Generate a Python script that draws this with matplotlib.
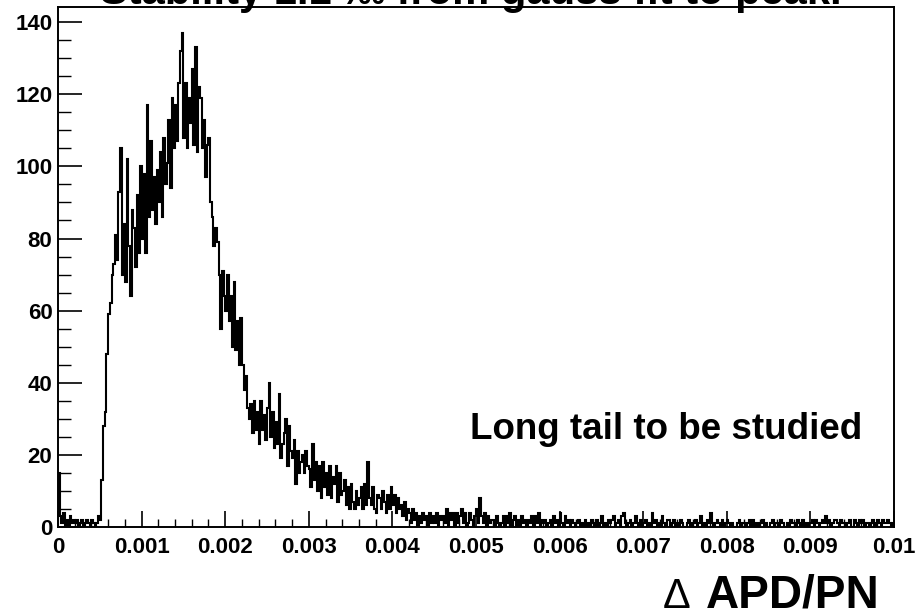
import numpy as np
import matplotlib
matplotlib.use("Agg")
import matplotlib.pyplot as plt
from matplotlib.ticker import FixedLocator, FixedFormatter, MultipleLocator

# Histogram of the APD/PN stability spread: 500 bins over [0, 0.01]
x_min, x_max, n_bins = 0.0, 0.01, 500
edges = np.linspace(x_min, x_max, n_bins + 1)

# bin contents, one row per 0.0001 interval (5 bins each)
counts = [
    15, 3, 1, 4, 0,
    2, 0, 3, 1, 2,
    1, 2, 0, 1, 2,
    0, 1, 2, 1, 0,
    2, 1, 0, 1, 3,
    2, 13, 28, 32, 48,
    59, 62, 70, 73, 81,
    74, 93, 105, 70, 84,
    68, 102, 78, 64, 88,
    83, 72, 92, 76, 100,
    80, 98, 76, 117, 86,
    107, 88, 97, 84, 99,
    90, 104, 86, 108, 95,
    101, 113, 94, 119, 105,
    117, 107, 123, 132, 137,
    108, 123, 105, 119, 112,
    127, 106, 133, 104, 122,
    119, 105, 113, 97, 106,
    108, 90, 86, 78, 83,
    79, 70, 55, 71, 64,
    60, 70, 57, 64, 50,
    68, 49, 57, 45, 58,
    45, 38, 42, 33, 30,
    34, 26, 35, 27, 32,
    23, 35, 27, 31, 24,
    33, 40, 25, 32, 22,
    29, 23, 37, 19, 23,
    26, 30, 17, 28, 21,
    19, 24, 12, 21, 15,
    18, 20, 15, 21, 17,
    16, 11, 23, 13, 18,
    10, 17, 8, 18, 11,
    15, 9, 17, 8, 14,
    12, 17, 7, 15, 9,
    10, 13, 6, 11, 5,
    12, 7, 5, 10, 6,
    8, 11, 5, 12, 6,
    18, 8, 6, 11, 5,
    4, 9, 8, 5, 10,
    7, 4, 9, 5, 11,
    6, 9, 4, 8, 5,
    6, 3, 7, 2, 5,
    4, 1, 5, 2, 4,
    0, 3, 1, 4, 2,
    3, 0, 4, 1, 3,
    1, 4, 0, 3, 2,
    3, 1, 5, 0, 4,
    2, 4, 0, 4, 1,
    3, 5, 1, 4, 0,
    1, 4, 2, 0, 3,
    5, 1, 8, 3, 1,
    4, 0, 3, 1, 2,
    2, 0, 3, 1, 0,
    1, 3, 0, 3, 1,
    4, 0, 2, 3, 0,
    2, 0, 3, 1, 2,
    0, 2, 1, 3, 0,
    3, 1, 4, 0, 2,
    1, 2, 0, 1, 2,
    0, 3, 1, 2, 0,
    4, 1, 0, 3, 1,
    2, 0, 2, 1, 0,
    1, 2, 0, 1, 0,
    2, 0, 1, 0, 2,
    1, 0, 2, 0, 1,
    3, 0, 1, 0, 2,
    1, 2, 3, 0, 1,
    2, 0, 3, 4, 1,
    0, 1, 2, 0, 1,
    3, 1, 0, 2, 0,
    1, 2, 0, 1, 0,
    4, 1, 2, 0, 1,
    0, 3, 1, 0, 2,
    2, 0, 1, 2, 0,
    1, 0, 2, 1, 0,
    0, 1, 2, 0, 1,
    1, 2, 0, 1, 3,
    0, 1, 0, 2, 1,
    4, 1, 0, 1, 2,
    1, 0, 2, 0, 1,
    2, 1, 0, 1, 0,
    0, 1, 2, 0, 1,
    1, 0, 1, 2, 0,
    2, 0, 1, 0, 1,
    1, 2, 0, 1, 0,
    0, 1, 2, 0, 1,
    1, 0, 2, 1, 0,
    0, 1, 0, 2, 1,
    1, 0, 2, 1, 0,
    2, 0, 1, 0, 1,
    1, 2, 0, 2, 1,
    0, 1, 2, 1, 3,
    1, 2, 0, 1, 2,
    2, 1, 0, 2, 1,
    1, 0, 1, 2, 0,
    0, 2, 1, 0, 2,
    1, 2, 0, 1, 1,
    0, 1, 2, 0, 1,
    2, 1, 0, 2, 1,
    1, 2, 1, 0, 1,
]

x_ticks = [0.0, 0.001, 0.002, 0.003, 0.004, 0.005, 0.006, 0.007, 0.008, 0.009, 0.01]
x_tick_labels = ["0", "0.001", "0.002", "0.003", "0.004", "0.005",
                 "0.006", "0.007", "0.008", "0.009", "0.01"]
y_ticks = [0, 20, 40, 60, 80, 100, 120, 140]
y_tick_labels = ["0", "20", "40", "60", "80", "100", "120", "140"]

title_text = "Stability 1.1 \u2030 from gauss fit to peak."
note_text = "Long tail to be studied"
xlabel_symbol = "\u0394"
xlabel_text = "APD/PN"

FONT = ["Liberation Sans", "DejaVu Sans"]
plt.rcParams["font.family"] = FONT

W, H = 917, 615
fig = plt.figure(figsize=(W / 100, H / 100), dpi=100)
ax = fig.add_axes([58 / W, 1 - 527 / H, (894 - 58) / W, (527 - 7) / H])

ax.stairs(counts, edges, color="black", linewidth=1.5)

ax.set_xlim(x_min, x_max)
ax.set_ylim(0, 144.2)

for side in ("left", "bottom", "top", "right"):
    ax.spines[side].set_linewidth(1.4)

ax.xaxis.set_major_locator(FixedLocator(x_ticks))
ax.xaxis.set_major_formatter(FixedFormatter(x_tick_labels))
ax.xaxis.set_minor_locator(MultipleLocator(0.0002))
ax.yaxis.set_major_locator(FixedLocator(y_ticks))
ax.yaxis.set_major_formatter(FixedFormatter(y_tick_labels))
ax.yaxis.set_minor_locator(MultipleLocator(5))

ax.tick_params(axis="x", which="major", direction="in", length=11.5, width=1.2,
               pad=7, labelsize=16)
ax.tick_params(axis="x", which="minor", direction="in", length=5.8, width=1.0)
ax.tick_params(axis="y", which="major", direction="in", length=17.3, width=1.2,
               pad=4, labelsize=16)
ax.tick_params(axis="y", which="minor", direction="in", length=9.4, width=1.0)
for lab in ax.get_xticklabels() + ax.get_yticklabels():
    lab.set_fontweight("bold")

# title sits at the very top edge of the canvas
fig.text(471 / W, 1 - 4 / H, title_text, ha="center", va="baseline",
         fontsize=30, fontweight="bold", family=FONT)

# annotation inside the frame
fig.text(470 / W, 1 - 439 / H, note_text, ha="left", va="baseline",
         fontsize=26.5, fontweight="bold", family=FONT)

# x-axis title, bottom right
fig.text(880 / W, 1 - 608 / H, xlabel_text, ha="right", va="baseline",
         fontsize=33, fontweight="bold", family=FONT)
fig.text(663 / W, 1 - 608 / H, xlabel_symbol, ha="left", va="baseline",
         fontsize=30, fontweight="normal", family=FONT)

fig.savefig("out.png", dpi=100)
